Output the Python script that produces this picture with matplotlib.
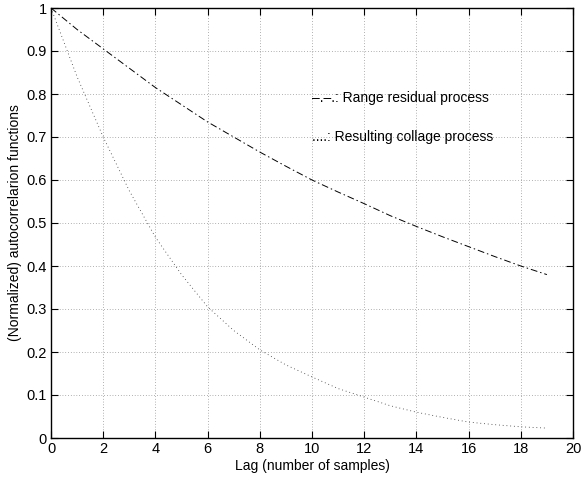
'''autocorrelation functions, matlab style'''
import numpy as np
import matplotlib
matplotlib.use('Agg')
import matplotlib.pyplot as plt

plt.rcParams['font.family'] = ['Liberation Sans', 'DejaVu Sans']

# lags and normalized autocorrelations
lags = np.arange(20)
range_residual = [1.0, 0.95, 0.905, 0.86, 0.815, 0.775, 0.735, 0.70, 0.665, 0.632,
                  0.60, 0.572, 0.545, 0.517, 0.492, 0.468, 0.445, 0.422, 0.40, 0.38]
collage = [1.0, 0.84, 0.70, 0.575, 0.467, 0.38, 0.305, 0.25, 0.205, 0.17,
           0.142, 0.115, 0.095, 0.075, 0.06, 0.048, 0.037, 0.031, 0.026, 0.023]

xticks = np.arange(0, 21, 2)
yticks = np.arange(0, 1.01, 0.1)
ytick_labels = ['0'] + ['%.1f' % v for v in yticks[1:-1]] + ['1']

fig = plt.figure(figsize=(5.87, 4.78), dpi=100)
ax = fig.add_axes([51 / 587, 40 / 478, 522 / 587, 430 / 478])

ax.plot(lags, range_residual, color='black', lw=0.7, linestyle=(0, (7, 3, 1.5, 3)))
ax.plot(lags, collage, color='#333333', lw=0.6, linestyle=(0, (1, 3.5)))

ax.text(10, 0.79, '\u2013.\u2013.: Range residual process', fontsize=10, va='center')
ax.text(10, 0.70, '....: Resulting collage process', fontsize=10, va='center')

ax.set_xlim(0, 20)
ax.set_ylim(0, 1)
ax.set_xticks(xticks)
ax.set_yticks(yticks)
ax.set_yticklabels(ytick_labels)
ax.tick_params(direction='in', length=5, width=0.8, top=True, right=True,
               labelsize=10.5, pad=3)
ax.grid(True, color='black', linestyle=(0, (1, 3)), linewidth=0.5, alpha=0.6)
for s in ax.spines.values():
    s.set_linewidth(1.0)

ax.set_xlabel('Lag (number of samples)', fontsize=10, labelpad=2)
ax.set_ylabel('(Normalized) autocorrelarion functions', fontsize=10, labelpad=3)

fig.savefig('out.png', dpi=100)
